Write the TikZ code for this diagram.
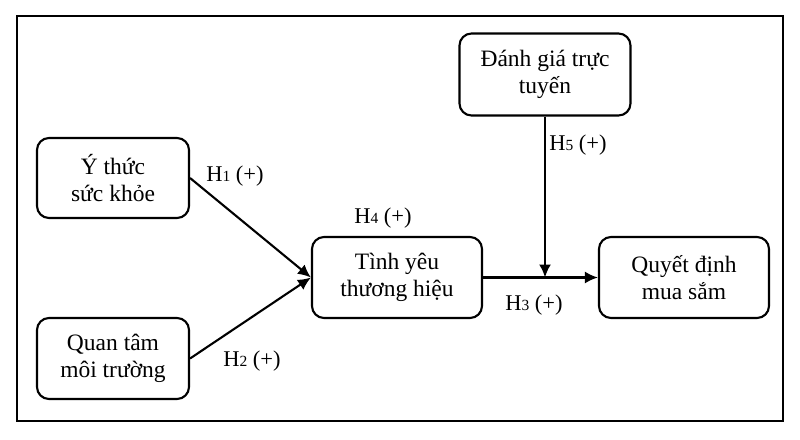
\documentclass[tikz,border=0pt]{standalone}
\usepackage{fontspec}
\setmainfont{Liberation Serif}
\usetikzlibrary{arrows.meta}
\newcommand{\hsub}[1]{H\raisebox{-0.5pt}{\fontsize{15.5}{15.5}\selectfont #1}}
\begin{document}
\begin{tikzpicture}[x=1pt,y=-1pt,
  box/.style={draw,line width=2.1pt,rounded corners=12pt,align=center,
    font=\fontsize{23.5}{26.5}\selectfont,inner sep=0pt},
  lab/.style={font=\fontsize{22.5}{26}\selectfont,inner sep=0pt},
  arr/.style={line width=2.1pt,-{Latex[length=13pt,width=12pt]}}]
\useasboundingbox (0,0) rectangle (800,439);
\draw[line width=2.1pt] (17,16) rectangle (783,421);
\node[box,minimum width=152pt,minimum height=80pt] (yt) at (113,178) {Ý thức\\sức khỏe};
\node[box,minimum width=152pt,minimum height=81pt] (qt) at (113,358.5) {Quan tâm\\môi trường};
\node[box,minimum width=170pt,minimum height=81pt] (ty) at (397,277.5) {Tình yêu\\thương hiệu};
\node[box,minimum width=170pt,minimum height=81pt] (qd) at (684,277.5) {Quyết định\\mua sắm};
\node[box,minimum width=171pt,minimum height=82pt] (dg) at (545,74.5) {Đánh giá trực\\tuyến};
\coordinate (m) at (dg.south |- ty.east);
\draw[arr] (yt.east) -- (ty.west);
\draw[arr] (qt.east) -- (ty.west);
\draw[arr] (ty.east) -- (qd.west);
\draw[arr] (dg.south) -- (m);
\node[lab] (h1) at (235,176) {\hsub{1} (+)};
\node[lab] (h2) at (252,361) {\hsub{2} (+)};
\node[lab] (h4) at (383,218) {\hsub{4} (+)};
\node[lab] (h3) at (534,305) {\hsub{3} (+)};
\node[lab] (h5) at (578,145) {\hsub{5} (+)};
\end{tikzpicture}
\end{document}
